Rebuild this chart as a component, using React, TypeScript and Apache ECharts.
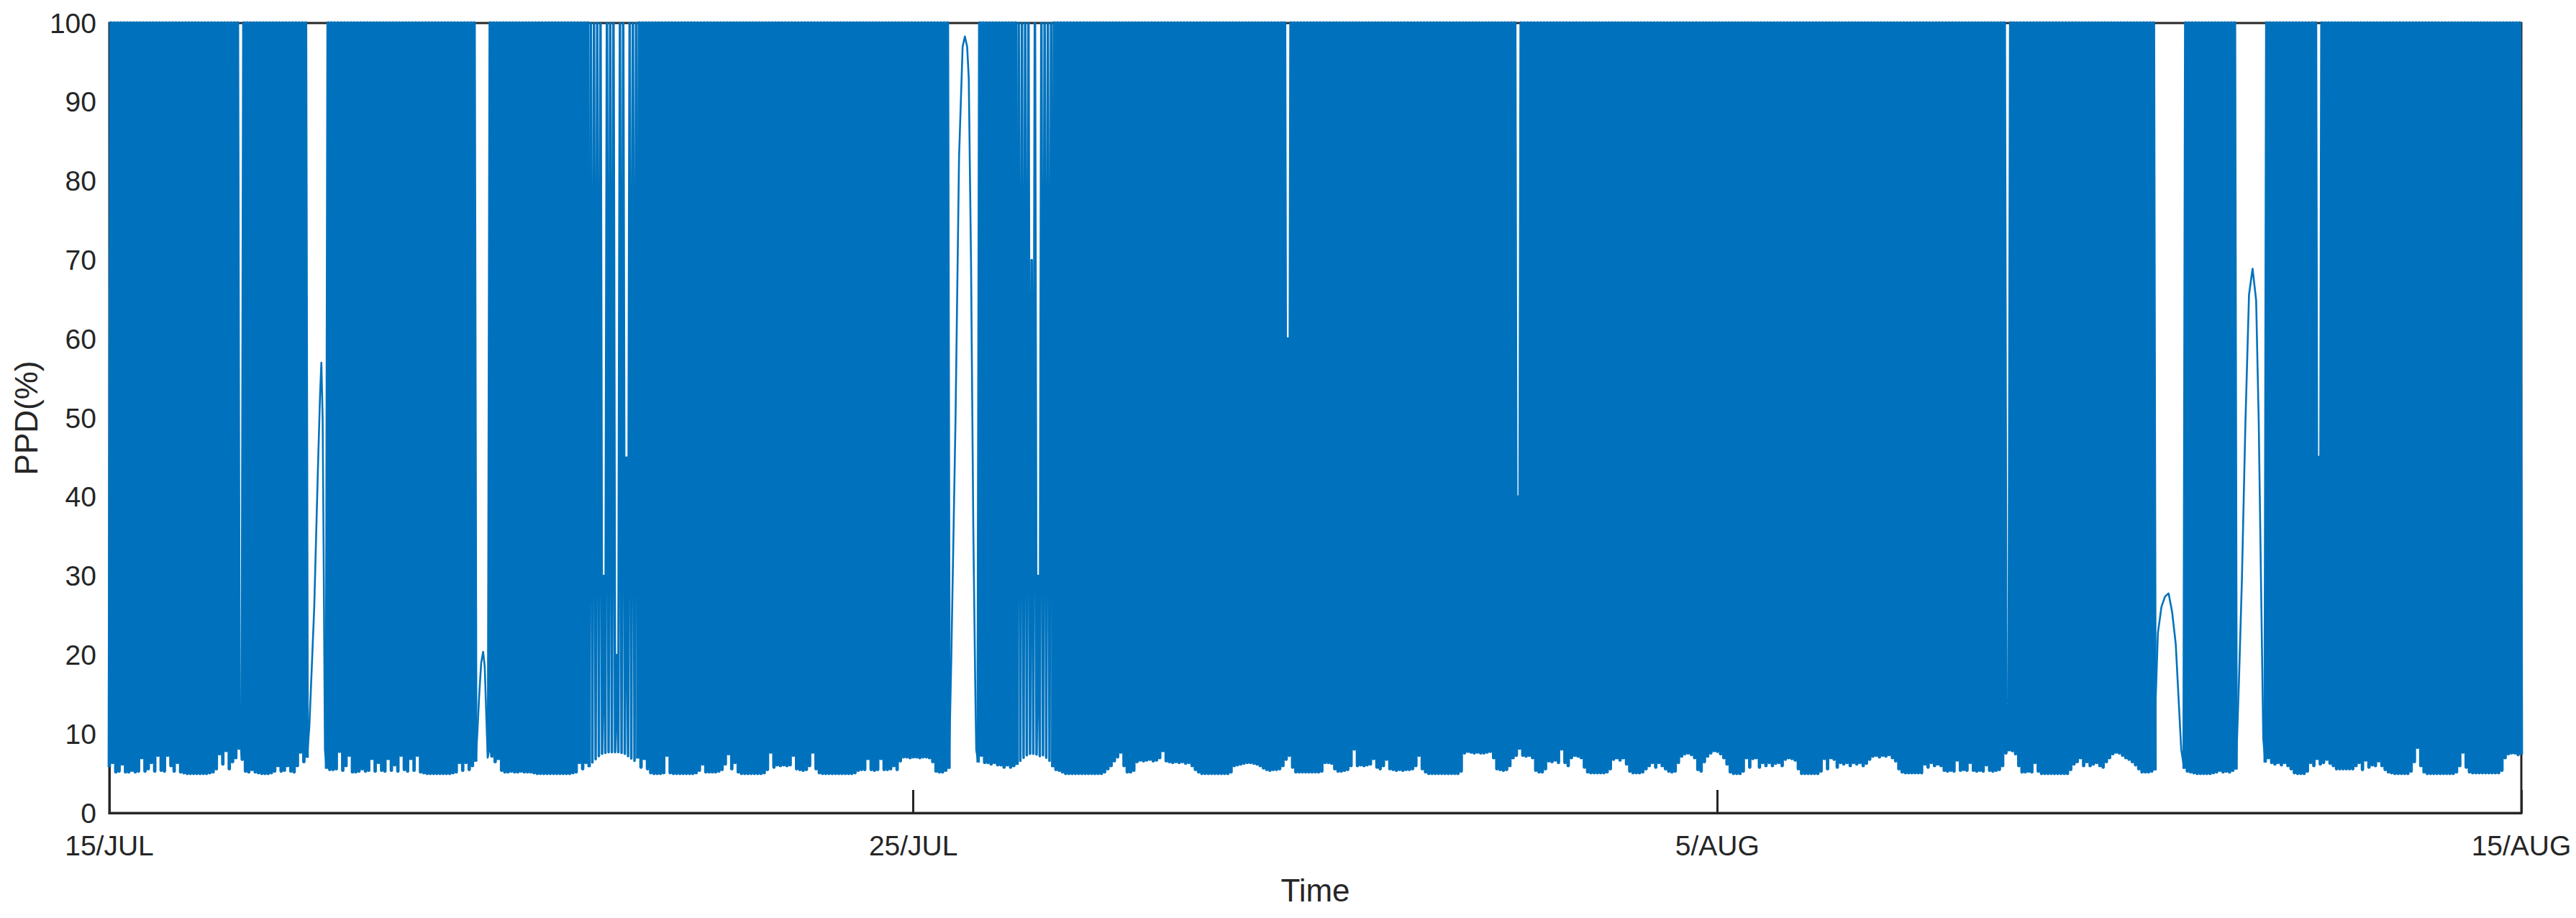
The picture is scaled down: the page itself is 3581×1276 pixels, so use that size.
import React, { useEffect, useRef } from "react";
import * as echarts from "echarts";

// X axis: hours since 15/JUL 00:00 (31 days = 744 h); ticks are evenly spaced thirds
const TICK_LABELS = ["15/JUL", "25/JUL", "5/AUG", "15/AUG"];
const X_MAX = 744;
const X_STEP = 248;
const Y_TICKS = [0, 10, 20, 30, 40, 50, 60, 70, 80, 90, 100];

// PPD ceiling reached by every oscillation peak
const PEAK = 100;

// Oscillating stretches: trough value for each hour (peaks of 100 between troughs)
const segA_start = 0;
const segA = [
  5.8, 6.4, 5.2, 5.3, 6.2, 5.2, 5.2, 5.4, 5.2, 5.3,
  7.0, 5.3, 5.6, 6.4, 5.3, 7.3, 5.4, 5.3, 7.3, 6.0,
  5.3, 6.4, 5.2, 5.1, 5.0, 5.0, 5.0, 5.0, 5.0, 5.0,
  5.0, 5.1, 5.2, 5.6, 7.5, 6.2, 7.9, 5.6, 6.5, 7.0,
  8.2, 6.8, 5.3, 5.2, 5.5, 5.2, 5.1, 5.0, 5.0, 5.0,
  5.1, 5.3, 6.0, 5.3, 5.4, 6.0, 5.3, 5.2, 6.0, 7.7,
  6.5, 7.0,
];
const hump1: [number, number][] = [
  [61.7, 11], [62.4, 18], [63.2, 26], [64.3, 43], [65.0, 53], [65.4, 57], [65.8, 50], [66.1, 33], [66.5, 8],
];
const segB_start = 67;
const segB = [
  5.6, 5.5, 5.5, 5.6, 7.8, 5.4, 6.0, 7.3, 5.2, 5.2,
  5.3, 5.6, 5.3, 5.4, 6.9, 5.3, 6.4, 5.4, 5.3, 6.9,
  5.4, 6.1, 5.3, 7.3, 5.5, 5.3, 6.9, 5.4, 7.3, 5.2,
  5.1, 5.0, 5.0, 5.0, 5.0, 5.0, 5.0, 5.0, 5.0, 5.1,
  5.2, 6.4, 5.4, 6.4, 5.5, 6.0, 6.5,
];
const hump2: [number, number][] = [
  [113.5, 10], [114.1, 15], [114.7, 19], [115.3, 20.4], [115.8, 18.5], [116.3, 12], [116.7, 7],
];
const segC_start = 117;
const segC = [
  7.6, 7.2, 6.5, 6.9, 5.4, 5.2, 5.2, 5.3, 5.2, 5.2,
  5.3, 5.2, 5.2, 5.2, 5.1, 5.0, 5.0, 5.0, 5.0, 5.0,
  5.0, 5.0, 5.0, 5.0, 5.0, 5.0, 5.1, 5.2, 6.4, 5.6,
  6.4, 5.8, 6.4, 6.8, 7.2, 7.5, 7.6, 7.7, 7.7, 7.7,
  7.7, 7.6, 7.5, 7.2, 6.9, 6.6, 6.9, 5.8, 6.9, 5.6,
  5.1, 5.0, 5.0, 5.0, 5.1, 7.3, 5.1, 5.0, 5.0, 5.0,
  5.0, 5.0, 5.0, 5.0, 5.1, 5.4, 6.2, 5.2, 5.2, 5.2,
  5.2, 5.3, 5.5, 6.2, 7.5, 5.6, 6.4, 5.2, 5.0, 5.0,
  5.0, 5.0, 5.0, 5.0, 5.0, 5.1, 5.5, 7.7, 5.8, 6.1,
  6.0, 6.1, 6.0, 6.1, 7.3, 5.6, 5.5, 5.4, 5.5, 6.0,
  7.7, 5.6, 5.1, 5.0, 5.0, 5.0, 5.0, 5.0, 5.0, 5.0,
  5.0, 5.0, 5.0, 5.1, 5.4, 5.5, 5.5, 6.9, 5.5, 5.4,
  5.5, 6.9, 5.5, 5.5, 5.6, 6.0, 5.5, 6.6, 7.1, 7.1,
  7.0, 7.1, 7.1, 7.0, 7.1, 7.1, 7.0, 6.5, 5.3, 5.2,
  5.2, 5.4, 5.6,
];
const hump3: [number, number][] = [
  [259.7, 19.4], [261.0, 49.5], [262.1, 83], [263.2, 97], [263.9, 98.3], [264.6, 97],
  [265.1, 93], [265.8, 69.6], [266.5, 36], [267.1, 16], [267.4, 8],
];
const segD_start = 268;
const segD = [
  6.4, 7.3, 6.4, 6.4, 6.2, 6.4, 6.1, 6.1, 5.8, 6.1,
  5.8, 6.0, 6.1, 6.6, 7.0, 7.3, 7.5, 7.5, 7.4, 7.2,
  7.3, 7.0, 6.6, 5.8, 5.5, 5.4, 5.2, 5.0, 5.0, 5.0,
  5.0, 5.0, 5.0, 5.0, 5.0, 5.0, 5.0, 5.0, 5.0, 5.2,
  5.6, 6.0, 6.6, 7.1, 7.7, 6.0, 5.2, 5.2, 5.4, 6.5,
  6.7, 6.6, 6.7, 6.8, 6.6, 6.7, 7.0, 7.9, 6.6, 6.5,
  6.4, 6.5, 6.4, 6.5, 6.3, 6.4, 6.0, 5.5, 5.2, 5.0,
  5.0, 5.0, 5.0, 5.0, 5.0, 5.0, 5.0, 5.0, 5.2, 6.0,
  6.1, 6.2, 6.3, 6.4, 6.4, 6.3, 6.2, 6.0, 5.7, 5.5,
  5.4, 5.5, 5.5, 5.6, 6.0, 6.8, 7.3, 5.8, 5.2, 5.2,
  5.2, 5.2, 5.2, 5.2, 5.2, 5.2, 5.3, 6.4, 6.4, 6.3,
  5.6, 5.3, 5.3, 5.4, 5.5, 6.0, 8.1, 6.0, 6.1, 6.0,
  6.1, 6.2, 6.9, 5.8, 5.6, 6.0, 6.8, 5.6, 5.5, 5.4,
  5.5, 5.4, 5.5, 5.5, 5.6, 6.0, 7.3, 5.6, 5.2, 5.0,
  5.0, 5.0, 5.0, 5.0, 5.0, 5.0, 5.0, 5.0, 5.0, 5.3,
  7.6, 7.8, 7.7, 7.6, 7.7, 7.6, 7.6, 7.7, 7.8, 7.0,
  5.6, 5.5, 5.4, 5.5, 6.0, 7.0, 7.3, 8.2, 7.3, 7.2,
  7.3, 7.0, 5.4, 5.2, 5.2, 5.6, 6.6, 6.5, 6.7, 6.4,
  8.1, 6.4, 6.0, 7.0, 7.3, 7.2, 7.0, 5.8, 5.2, 5.1,
  5.1, 5.1, 5.1, 5.1, 5.2, 5.6, 6.8, 7.0, 6.7, 7.0,
  6.2, 5.3, 5.1, 5.1, 5.1, 5.2, 5.6, 6.0, 6.4, 5.8,
  6.4, 6.0, 5.6, 5.3, 5.2, 5.3, 6.4, 7.2, 7.5, 7.6,
  7.4, 7.0, 5.5, 5.3, 6.5, 7.2, 7.6, 7.9, 7.8, 7.5,
  7.0, 6.2, 5.2, 5.0, 5.0, 5.0, 5.3, 7.0, 5.8, 6.9,
  7.0, 5.8, 6.4, 6.0, 6.4, 6.0, 6.3, 6.4, 6.0, 6.8,
  7.0, 6.9, 6.7, 5.6, 5.0, 5.0, 5.0, 5.0, 5.0, 5.0,
  5.3, 6.9, 5.6, 7.0, 6.8, 5.8, 6.4, 6.2, 6.4, 6.0,
  6.4, 6.2, 6.4, 6.0, 6.3, 6.8, 7.2, 7.3, 7.1, 7.3,
  7.2, 7.4, 7.0, 6.6, 5.6, 5.2, 5.1, 5.1, 5.1, 5.1,
  5.1, 5.1, 6.2, 5.8, 6.4, 6.0, 6.2, 6.0, 5.4, 5.3,
  5.4, 5.3, 6.7, 5.4, 5.5, 5.4, 6.4, 5.4, 5.3, 5.4,
  5.3, 6.1, 5.4, 5.3, 5.4, 5.5, 6.0, 7.6, 8.0, 7.9,
  7.5, 6.0, 5.2, 5.2, 5.3, 5.2, 6.4, 5.3, 5.0, 5.0,
  5.0, 5.0, 5.0, 5.0, 5.0, 5.0, 5.0, 5.5, 6.2, 6.5,
  7.0, 6.0, 6.5, 6.0, 6.2, 6.4, 6.0, 5.8, 6.5, 7.0,
  7.5, 7.7, 7.6, 7.3, 7.0, 6.8, 6.5, 6.1, 5.6, 5.2,
  5.2, 5.2, 5.3, 5.4,
];
const hump4: [number, number][] = [
  [631.1, 13], [631.9, 22.8], [633.0, 26.1], [634.1, 27.4], [635.2, 27.8],
  [636.3, 25.4], [637.4, 21.4], [638.5, 12.7], [639.1, 8],
];
const segE_start = 640;
const segE = [5.6, 5.3, 5.2, 5.1, 5.0, 5.0, 5.0, 5.0, 5.0, 5.1, 5.2, 5.4, 5.2, 5.3, 5.2, 5.4, 5.5];
const hump5: [number, number][] = [
  [656.9, 16.7], [657.8, 29.4], [658.9, 49.5], [660.0, 65.6], [661.1, 68.9],
  [662.2, 64.9], [663.0, 49.5], [663.7, 29.4], [664.4, 9.4],
];
const segF_start = 665;
const segF = [
  6.4, 7.0, 6.4, 6.2, 6.4, 6.1, 6.4, 6.0, 5.6, 5.1,
  5.0, 5.0, 5.0, 5.3, 6.4, 6.0, 6.9, 6.2, 6.4, 6.8,
  6.3, 6.0, 5.6, 5.6, 5.6, 5.6, 5.6, 5.6, 6.0, 6.4,
  5.5, 6.7, 5.8, 6.1, 6.0, 6.6, 6.0, 5.5, 5.2, 5.1,
  5.0, 5.0, 5.0, 5.0, 5.0, 5.3, 6.5, 8.3, 6.0, 5.2,
  5.0, 5.0, 5.0, 5.0, 5.0, 5.0, 5.0, 5.0, 5.0, 5.2,
  6.0, 7.7, 5.8, 5.2, 5.1, 5.1, 5.1, 5.1, 5.1, 5.1,
  5.1, 5.1, 5.1, 5.4, 7.0, 7.5, 7.6, 7.6, 7.4, 7.4,
];

// Cycles whose peak stayed below 100 (pale streaks): [trough hour, peak value]
const peakDips: [number, number][] = [
  [40, 12], [152, 30], [156, 20], [159, 45], [284, 70], [286, 30],
  [363, 60], [434, 40], [585, 10], [681, 45],
];
// Stretches where the swings are sparser, so the trace looks paler: [from hour, to hour]
const paleSpans: [number, number][] = [
  [148, 163],
  [280, 291],
];

const segments: [number, number[]][] = [
  [segA_start, segA], [segB_start, segB], [segC_start, segC],
  [segD_start, segD], [segE_start, segE], [segF_start, segF],
];
const humps: [number, number][][] = [hump1, hump2, hump3, hump4, hump5];

function oscillation(start: number, troughs: number[]): [number, number][] {
  const dips = new Map(peakDips.map(([h, v]) => [h, v]));
  const pts: [number, number][] = [];
  troughs.forEach((t, i) => {
    const h = start + i;
    pts.push([h, t]);
    if (i < troughs.length - 1) pts.push([h + 0.5, dips.has(h) ? (dips.get(h) as number) : PEAK]);
  });
  return pts;
}

export default function App() {
  const ref = useRef<HTMLDivElement>(null);
  useEffect(() => {
    if (!ref.current) return;
    const chart = echarts.init(ref.current, undefined, { renderer: "svg" });

    const inPale = (h: number) => paleSpans.some(([a, b]) => h > a && h < b);
    // dense oscillating stretches (broken at the calm spells and the pale stretches)
    const oscData: (number | null)[][] = [];
    const paleData: (number | null)[][] = [];
    segments.forEach(([s, t], k) => {
      if (k > 0) oscData.push([s - 0.5, null]);
      const pts = oscillation(s, t);
      pts.forEach((p) => {
        if (inPale(p[0])) {
          if (oscData.length && oscData[oscData.length - 1][1] !== null) oscData.push([p[0], null]);
        } else {
          oscData.push(p);
        }
      });
      paleSpans.forEach(([a, b]) => {
        const sub = pts.filter((p) => p[0] >= a && p[0] <= b);
        if (sub.length) {
          paleData.push(...sub);
          paleData.push([b + 0.1, null]);
        }
      });
    });
    // calm spells: smooth line joining the last trough before and first trough after
    const calmData: (number | null)[][] = [];
    humps.forEach((hp, k) => {
      const [ps, pt] = segments[k];
      const [ns, nt] = segments[k + 1];
      if (k > 0) calmData.push([hp[0][0] - 1, null]);
      calmData.push([ps + pt.length - 1, pt[pt.length - 1]], ...hp, [ns, nt[0]]);
    });

    const axisColor = "#262626";
    const font = "'Liberation Sans', Arial, sans-serif";
    const blue = "#0072BD";
    const lineBase = { type: "line", showSymbol: false, symbol: "none", connectNulls: false, clip: false };
    chart.setOption({
      animation: false,
      backgroundColor: "#ffffff",
      grid: {
        left: 152,
        right: 76,
        top: 32,
        bottom: 146,
        show: true,
        borderColor: axisColor,
        borderWidth: 3,
        backgroundColor: "transparent",
      },
      xAxis: {
        type: "value",
        min: 0,
        max: X_MAX,
        interval: X_STEP,
        name: "Time",
        nameLocation: "middle",
        nameGap: 85,
        nameTextStyle: { fontSize: 44, color: axisColor, fontFamily: font },
        axisLine: { show: true, lineStyle: { color: axisColor, width: 3 } },
        axisTick: { show: true, inside: true, length: 32, lineStyle: { color: axisColor, width: 3 } },
        axisLabel: {
          fontSize: 39,
          color: axisColor,
          fontFamily: font,
          margin: 26,
          formatter: (v: number) => TICK_LABELS[Math.round(v / X_STEP)] ?? "",
        },
        splitLine: { show: false },
      },
      yAxis: {
        type: "value",
        min: Y_TICKS[0],
        max: Y_TICKS[Y_TICKS.length - 1],
        interval: 10,
        name: "PPD(%)",
        nameLocation: "middle",
        nameRotate: 90,
        nameGap: 81,
        nameTextStyle: { fontSize: 44, color: axisColor, fontFamily: font },
        axisLine: { show: true, lineStyle: { color: axisColor, width: 3 } },
        axisTick: { show: true, inside: true, length: 32, lineStyle: { color: axisColor, width: 3 } },
        axisLabel: { fontSize: 39, color: axisColor, fontFamily: font, margin: 18 },
        splitLine: { show: false },
      },
      series: [
        { ...lineBase, data: oscData, lineStyle: { color: blue, width: 4.8, join: "round" } },
        { ...lineBase, data: paleData, lineStyle: { color: blue, width: 3.5, join: "round" } },
        { ...lineBase, data: calmData, lineStyle: { color: blue, width: 2.6, join: "round" } },
      ],
    });
    return () => chart.dispose();
  }, []);
  return (
    <div
      ref={ref}
      style={{ position: "fixed", left: 0, top: 0, width: "3581px", height: "1276px", background: "#fff" }}
    />
  );
}
